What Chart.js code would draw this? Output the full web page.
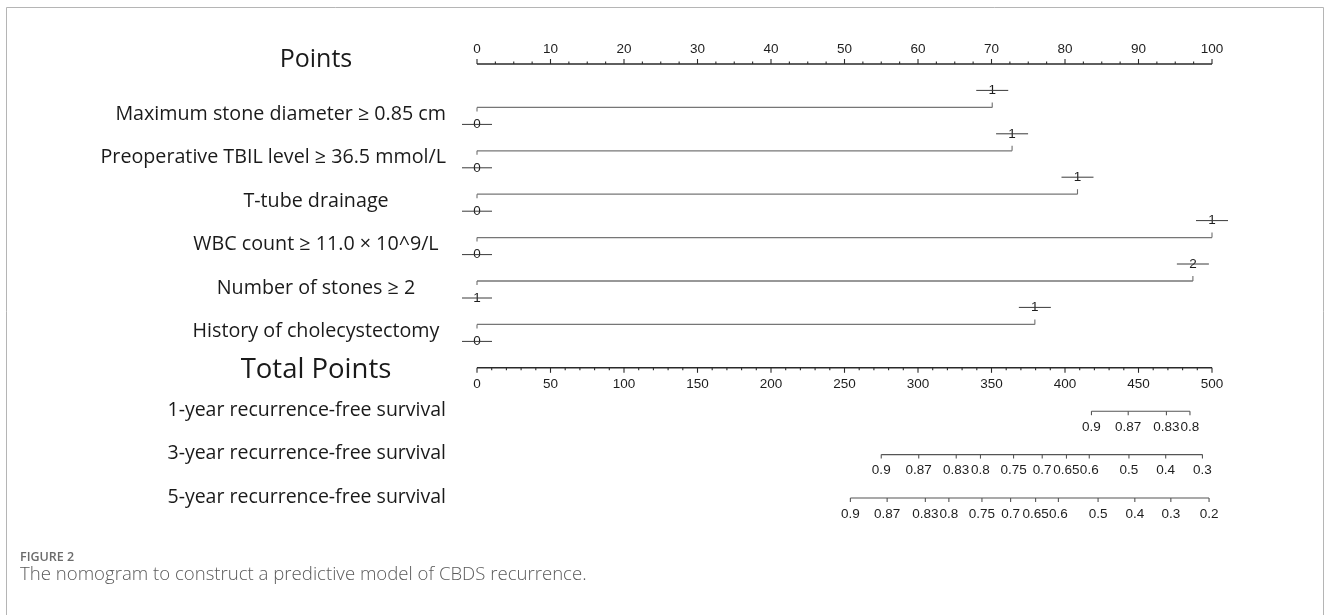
<!DOCTYPE html>
<html>
<head>
<meta charset="utf-8">
<script src="https://cdn.jsdelivr.net/npm/chart.js@4/dist/chart.umd.min.js"></script>
<style>
  html, body { margin: 0; padding: 0; background: #ffffff; }
  #wrap { position: relative; width: 1330px; height: 615px; }
  canvas { display: block; }
</style>
</head>
<body>
<div id="wrap"><canvas id="c" width="1330" height="615"></canvas></div>
<script>
// ---- data ----
const variableNames = [
  'Maximum stone diameter \u2265 0.85 cm',
  'Preoperative TBIL level \u2265 36.5 mmol/L',
  'T-tube drainage',
  'WBC count \u2265 11.0 \u00d7 10^9/L',
  'Number of stones \u2265 2',
  'History of cholecystectomy'
];
const variableMaxPoints = [70.1, 72.8, 81.7, 100, 97.4, 75.9];
const variableLowLabels = ['0', '0', '0', '0', '1', '0'];
const variableHighLabels = ['1', '1', '1', '1', '2', '1'];

const pointsTicks = [0, 10, 20, 30, 40, 50, 60, 70, 80, 90, 100];
const totalPointsTicks = [0, 50, 100, 150, 200, 250, 300, 350, 400, 450, 500];

const survivalNames = [
  '1-year recurrence-free survival',
  '3-year recurrence-free survival',
  '5-year recurrence-free survival'
];
const oneYearProbLabels = ['0.9', '0.87', '0.83', '0.8'];
const oneYearTotalPoints = [418, 443, 469, 485];
const threeYearProbLabels = ['0.9', '0.87', '0.83', '0.8', '0.75', '0.7', '0.65', '0.6', '0.5', '0.4', '0.3'];
const threeYearTotalPoints = [275, 300.5, 326, 342.5, 365, 384.5, 401, 416.5, 443.5, 468.5, 493.5];
const fiveYearProbLabels = ['0.9', '0.87', '0.83', '0.8', '0.75', '0.7', '0.65', '0.6', '0.5', '0.4', '0.3', '0.2'];
const fiveYearTotalPoints = [254, 279, 305, 321, 343.5, 363, 380, 395.5, 422.5, 447.5, 472, 498];

const captionTitle = 'FIGURE 2';
const captionText = 'The nomogram to construct a predictive model of CBDS recurrence.';

// ---- layout / style (not data) ----
const ROW_POINTS_AXIS = 0;
const ROW_TOTAL_AXIS = 7;
const LABEL_FONT = '"Open Sans", "Noto Sans", sans-serif';
const TICK_FONT = '13.5px "Liberation Sans", Arial, sans-serif';
const LABEL_CENTER_X = 316;
const LABEL_MAX_RIGHT = 446;

const survivalSets = [
  { probs: oneYearProbLabels, totals: oneYearTotalPoints },
  { probs: threeYearProbLabels, totals: threeYearTotalPoints },
  { probs: fiveYearProbLabels, totals: fiveYearTotalPoints }
];

const datasets = variableNames.map((name, i) => ({
  label: name,
  data: [{ x: 0, y: i + 1 }, { x: variableMaxPoints[i], y: i + 1 }],
  borderColor: '#767676',
  borderWidth: 1.3,
  pointRadius: 0,
  showLine: true,
  fill: false,
  tension: 0
}));

function drawLeftLabel(ctx, text, y, size) {
  ctx.save();
  ctx.font = size + 'px ' + LABEL_FONT;
  ctx.fillStyle = '#1a1a1a';
  ctx.textBaseline = 'middle';
  const w = ctx.measureText(text).width;
  let left = LABEL_CENTER_X - w / 2;
  if (left + w > LABEL_MAX_RIGHT) left = LABEL_MAX_RIGHT - w;
  ctx.textAlign = 'left';
  ctx.fillText(text, left, y);
  ctx.restore();
}

function line(ctx, x1, y1, x2, y2) {
  ctx.beginPath();
  ctx.moveTo(x1, y1);
  ctx.lineTo(x2, y2);
  ctx.stroke();
}

const nomogramPlugin = {
  id: 'nomogram',
  beforeDraw(chart) {
    const ctx = chart.ctx;
    ctx.save();
    ctx.fillStyle = '#ffffff';
    ctx.fillRect(0, 0, chart.width, chart.height);
    // figure frame
    ctx.strokeStyle = '#b5b5b5';
    ctx.lineWidth = 1;
    ctx.beginPath();
    ctx.moveTo(6.5, 615);
    ctx.lineTo(6.5, 7.5);
    ctx.lineTo(1323.5, 7.5);
    ctx.lineTo(1323.5, 615);
    ctx.stroke();
    // caption
    ctx.fillStyle = '#6b6b6b';
    ctx.textBaseline = 'middle';
    ctx.textAlign = 'left';
    ctx.font = '600 12.5px ' + LABEL_FONT;
    ctx.fillText(captionTitle, 20, 557);
    ctx.fillStyle = '#5a5a5a';
    ctx.font = '300 18.6px ' + LABEL_FONT;
    ctx.fillText(captionText, 20, 575);
    ctx.restore();
  },
  afterDatasetsDraw(chart) {
    const ctx = chart.ctx;
    const xs = chart.scales.x;
    const xt = chart.scales.xt;
    const ys = chart.scales.y;
    ctx.save();

    // ---- Points axis ----
    const yP = ys.getPixelForValue(ROW_POINTS_AXIS);
    ctx.strokeStyle = '#2a2a2a';
    ctx.lineWidth = 1.4;
    line(ctx, xs.getPixelForValue(0), yP, xs.getPixelForValue(100), yP);
    ctx.lineWidth = 1.1;
    for (let v = 0; v <= 100; v += 2.5) {
      const px = xs.getPixelForValue(v);
      const major = pointsTicks.includes(v);
      line(ctx, px, yP, px, yP - (major ? 5 : 2.5));
    }
    ctx.fillStyle = '#1e1e1e';
    ctx.font = TICK_FONT;
    ctx.textAlign = 'center';
    ctx.textBaseline = 'middle';
    pointsTicks.forEach(v => ctx.fillText(String(v), xs.getPixelForValue(v), yP - 15));
    drawLeftLabel(ctx, 'Points', yP - 4, 25);

    // ---- variable rows ----
    variableNames.forEach((name, i) => {
      const y = ys.getPixelForValue(i + 1);
      const x0 = xs.getPixelForValue(0);
      const x1 = xs.getPixelForValue(variableMaxPoints[i]);
      ctx.strokeStyle = '#6f6f6f';
      ctx.lineWidth = 1.1;
      line(ctx, x0, y, x0, y + 4);
      line(ctx, x1, y, x1, y - 5);
      ctx.fillStyle = '#1e1e1e';
      ctx.font = TICK_FONT;
      ctx.textAlign = 'center';
      ctx.textBaseline = 'middle';
      const yl = y + 17;
      const yh = y - 17;
      ctx.fillText(variableLowLabels[i], x0, yl);
      ctx.fillText(variableHighLabels[i], x1, yh);
      ctx.strokeStyle = '#3a3a3a';
      ctx.lineWidth = 1;
      line(ctx, x0 - 15, yl, x0 + 15, yl);
      line(ctx, x1 - 16, yh, x1 + 16, yh);
      drawLeftLabel(ctx, name, y + 7, 19.7);
    });

    // ---- Total Points axis ----
    const yT = ys.getPixelForValue(ROW_TOTAL_AXIS);
    ctx.strokeStyle = '#2a2a2a';
    ctx.lineWidth = 1.4;
    line(ctx, xt.getPixelForValue(0), yT, xt.getPixelForValue(500), yT);
    ctx.lineWidth = 1.1;
    for (let v = 0; v <= 500; v += 10) {
      const px = xt.getPixelForValue(v);
      const major = totalPointsTicks.includes(v);
      line(ctx, px, yT, px, yT + (major ? 5 : 2.5));
    }
    ctx.fillStyle = '#1e1e1e';
    ctx.font = TICK_FONT;
    ctx.textAlign = 'center';
    ctx.textBaseline = 'middle';
    totalPointsTicks.forEach(v => ctx.fillText(String(v), xt.getPixelForValue(v), yT + 16));
    drawLeftLabel(ctx, 'Total Points', yT + 2, 27.5);

    // ---- survival axes ----
    survivalSets.forEach((s, k) => {
      const y = ys.getPixelForValue(ROW_TOTAL_AXIS + 1 + k);
      const xa = xt.getPixelForValue(s.totals[0]);
      const xb = xt.getPixelForValue(s.totals[s.totals.length - 1]);
      ctx.strokeStyle = '#555555';
      ctx.lineWidth = 1.1;
      line(ctx, xa, y, xb, y);
      s.totals.forEach((t, j) => {
        const px = xt.getPixelForValue(t);
        line(ctx, px, y, px, y + 4);
        ctx.fillStyle = '#1e1e1e';
        ctx.font = TICK_FONT;
        ctx.textAlign = 'center';
        ctx.textBaseline = 'middle';
        ctx.fillText(s.probs[j], px, y + 16);
      });
      drawLeftLabel(ctx, survivalNames[k], y - 1, 19.5);
    });

    ctx.restore();
  }
};

new Chart(document.getElementById('c'), {
  type: 'scatter',
  data: { datasets },
  options: {
    responsive: false,
    animation: false,
    devicePixelRatio: 1,
    layout: { padding: { left: 477, right: 118, top: 64, bottom: 117 } },
    plugins: { legend: { display: false }, tooltip: { enabled: false } },
    scales: {
      x: { type: 'linear', min: 0, max: 100, display: false },
      xt: { type: 'linear', axis: 'x', min: 0, max: 500, display: false },
      y: { type: 'linear', min: 0, max: 10, reverse: true, display: false }
    }
  },
  plugins: [nomogramPlugin]
});
</script>
</body>
</html>
